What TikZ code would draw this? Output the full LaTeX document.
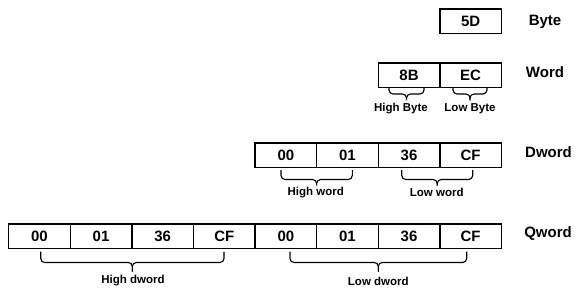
\documentclass[tikz,border=0pt]{standalone}
\usepackage{fontspec}
\setmainfont{Liberation Sans}
\newcommand\bracedraw[6]{% x1, x2, xc, top, mid, bot
  \draw[brc] (#1,#4) -- (#1,#5) -- (#3,#5) -- (#3,#6);
  \draw[brc] (#2,#4) -- (#2,#5) -- (#3,#5) -- (#3,#6);}
\begin{document}
\begin{tikzpicture}[x=1pt,y=-1pt,
  cell/.style={draw, line width=1.3pt, minimum width=61.6pt, minimum height=24.4pt, inner sep=0pt, anchor=north west, font=\fontsize{15}{15}\selectfont\bfseries},
  rowlab/.style={font=\fontsize{15}{15}\selectfont\bfseries},
  brlab/.style={font=\fontsize{11.5}{11.5}\selectfont\bfseries},
  brc/.style={draw, line width=1.1pt, rounded corners=4pt}]
\useasboundingbox (0,0) rectangle (583,295);
% Byte
\node[cell] (b1) at (439.2,8.2) {5D};
\node[rowlab] (lb) at (545,22) {Byte};
% Word
\node[cell] (w1) at (377.6,62.3) {8B};
\node[cell] (w2) at (439.2,62.3) {EC};
\node[rowlab] (lw) at (545,72) {Word};
\bracedraw{389}{424}{406.5}{87.7}{94}{97.5}
\bracedraw{453}{487}{470}{87.7}{94}{97.5}
\node[brlab] (whb) at (401,108.5) {High Byte};
\node[brlab] (wlb) at (470,108.5) {Low Byte};
% Dword
\foreach \i/\t in {1/00,2/01,3/36,4/CF}{
  \node[cell] (d\i) at (254.4+61.6*\i-61.6,142.3) {\t};}
\node[rowlab] (ld) at (548.5,152.5) {Dword};
\bracedraw{281}{352.3}{316.6}{170}{179.5}{183}
\bracedraw{401.7}{472.7}{437.2}{170}{179.5}{183}
\node[brlab] (dhw) at (315.7,192.7) {High word};
\node[brlab] (dlw) at (436.7,192.7) {Low word};
% Qword
\foreach \i/\t in {1/00,2/01,3/36,4/CF,5/00,6/01,7/36,8/CF}{
  \node[cell] (q\i) at (8+61.6*\i-61.6,223.3) {\t};}
\node[rowlab] (lq) at (548,234) {Qword};
\bracedraw{40.7}{224}{132.3}{251.7}{262.5}{271.5}
\bracedraw{290}{466.7}{378.3}{251.7}{262.5}{271.5}
\node[brlab] (qhd) at (133,281) {High dword};
\node[brlab] (qld) at (378.3,281) {Low dword};
\end{tikzpicture}
\end{document}
